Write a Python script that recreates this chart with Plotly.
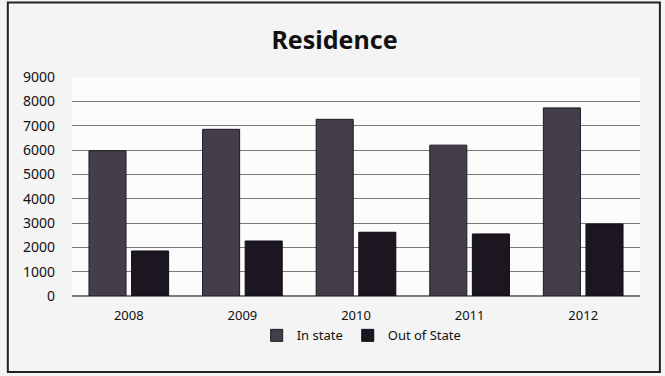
import plotly.graph_objects as go

years = ["2008", "2009", "2010", "2011", "2012"]
in_state = [5970, 6850, 7260, 6200, 7730]
out_state = [1850, 2260, 2620, 2550, 2960]
y_ticks = [0, 1000, 2000, 3000, 4000, 5000, 6000, 7000, 8000, 9000]

fig = go.Figure()
fig.add_trace(go.Bar(x=years, y=in_state, name="In state",
                     marker=dict(color="#443e4a", line=dict(color="#1c1a20", width=1))))
fig.add_trace(go.Bar(x=years, y=out_state, name="Out of State",
                     marker=dict(color="#1b1620", line=dict(color="#100d14", width=1))))

fig.update_layout(
    width=665, height=376,
    margin=dict(l=72, r=25, t=77, b=80, autoexpand=False),
    paper_bgcolor="#f4f4f4",
    plot_bgcolor="#fcfcfc",
    barmode="group",
    bargap=0.25,
    bargroupgap=0.13,
    font=dict(family="Noto Sans", size=13, color="#111111"),
    title=dict(text="<b>Residence</b>", xref="container", x=0.503, xanchor="center",
               yref="container", y=0.893, yanchor="middle",
               font=dict(size=25, color="#111111", family="Noto Sans")),
    legend=dict(orientation="h", x=0.51, xanchor="center", y=-0.18, yanchor="middle",
                font=dict(size=13), itemwidth=30, traceorder="normal"),
    showlegend=True,
)
fig.update_yaxes(range=[0, 9000], tickvals=y_ticks, ticktext=[str(v) for v in y_ticks],
                 showgrid=True, gridcolor="#7a7a7a", gridwidth=1.2, zeroline=True,
                 zerolinecolor="#7a7a7a", ticks="", ticklen=0, tickfont=dict(size=14),
                 ticklabelstandoff=16, automargin=False)
fig.update_xaxes(showgrid=False, ticks="", tickfont=dict(size=13), showline=False,
                 ticklabelstandoff=10, automargin=False)

fig.add_shape(type="rect", xref="paper", yref="paper", x0=-0.113, x1=1.035, y0=-0.347, y1=1.34,
              line=dict(color="#222222", width=2), layer="below")

fig.write_html("out.html", config={"displayModeBar": False},
               post_script="document.body.style.margin='0';document.body.style.overflow='hidden';")
